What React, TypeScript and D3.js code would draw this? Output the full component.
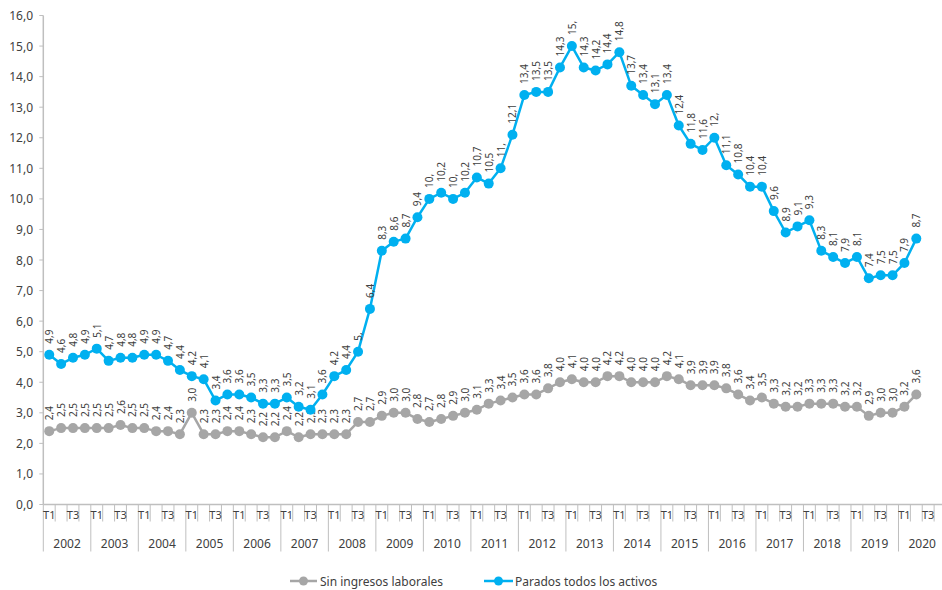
import React from "react";
import * as d3 from "d3";

const years = ["2002","2003","2004","2005","2006","2007","2008","2009","2010","2011","2012","2013","2014","2015","2016","2017","2018","2019","2020"];
const quarterLabels = ["T1", "", "T3", ""];
const yTicks = [0,1,2,3,4,5,6,7,8,9,10,11,12,13,14,15,16];

const sinIngresos = [
  2.4, 2.5, 2.5, 2.5,
  2.5, 2.5, 2.6, 2.5,
  2.5, 2.4, 2.4, 2.3,
  3.0, 2.3, 2.3, 2.4,
  2.4, 2.3, 2.2, 2.2,
  2.4, 2.2, 2.3, 2.3,
  2.3, 2.3, 2.7, 2.7,
  2.9, 3.0, 3.0, 2.8,
  2.7, 2.8, 2.9, 3.0,
  3.1, 3.3, 3.4, 3.5,
  3.6, 3.6, 3.8, 4.0,
  4.1, 4.0, 4.0, 4.2,
  4.2, 4.0, 4.0, 4.0,
  4.2, 4.1, 3.9, 3.9,
  3.9, 3.8, 3.6, 3.4,
  3.5, 3.3, 3.2, 3.2,
  3.3, 3.3, 3.3, 3.2,
  3.2, 2.9, 3.0, 3.0,
  3.2, 3.6,
];

const parados = [
  4.9, 4.6, 4.8, 4.9,
  5.1, 4.7, 4.8, 4.8,
  4.9, 4.9, 4.7, 4.4,
  4.2, 4.1, 3.4, 3.6,
  3.6, 3.5, 3.3, 3.3,
  3.5, 3.2, 3.1, 3.6,
  4.2, 4.4, 5.0, 6.4,
  8.3, 8.6, 8.7, 9.4,
  10.0, 10.2, 10.0, 10.2,
  10.7, 10.5, 11.0, 12.1,
  13.4, 13.5, 13.5, 14.3,
  15.0, 14.3, 14.2, 14.4,
  14.8, 13.7, 13.4, 13.1,
  13.4, 12.4, 11.8, 11.6,
  12.0, 11.1, 10.8, 10.4,
  10.4, 9.6, 8.9, 9.1,
  9.3, 8.3, 8.1, 7.9,
  8.1, 7.4, 7.5, 7.5,
  7.9, 8.7,
];

const W = 942;
const H = 590;
const FONT = "'Noto Sans', 'Open Sans', sans-serif";
const TEXT = "#404040";
const AXIS = "#BFBFBF";
const GRAY = "#A6A6A6";
const BLUE = "#00B0F0";

const fmtGray = (v: number) => v.toFixed(1).replace(".", ",");
const fmtBlue = (v: number) => (Number.isInteger(v) ? `${v},` : v.toFixed(1).replace(".", ","));
const fmtAxis = (v: number) => v.toFixed(1).replace(".", ",");

export default function App() {
  const nSlots = years.length * 4;
  const x = d3.scaleBand<number>().domain(d3.range(nSlots)).range([43.3, 946]).padding(0);
  const y = d3.scaleLinear().domain([0, 16]).range([504.5, 15.5]);
  const cx = (i: number) => (x(i) as number) + x.bandwidth() / 2;
  const line = d3.line<number>().x((_, i) => cx(i)).y((d) => y(d));
  const axisY = y(0);
  const x0 = x(0) as number;

  const series = [
    { data: sinIngresos, color: GRAY, fmt: fmtGray },
    { data: parados, color: BLUE, fmt: fmtBlue },
  ];

  return (
    <svg width={W} height={H} style={{ position: "absolute", left: 0, top: 0, background: "#fff" }} fontFamily={FONT}>
      {/* Y axis */}
      <line x1={x0} x2={x0} y1={y(16)} y2={axisY} stroke={AXIS} strokeWidth={1.5} />
      {yTicks.map((t) => (
        <g key={t}>
          <line x1={x0 - 4} x2={x0} y1={y(t)} y2={y(t)} stroke={AXIS} strokeWidth={1} />
          <text x={33} y={y(t)} textAnchor="end" dominantBaseline="central" fontSize={12} fill={TEXT}>
            {fmtAxis(t)}
          </text>
        </g>
      ))}
      {/* X axis */}
      <line x1={x0} x2={946} y1={axisY} y2={axisY} stroke={AXIS} strokeWidth={1.5} />
      {d3.range(nSlots + 1).map((i) => {
        const xx = i < nSlots ? (x(i) as number) : 946;
        const isYear = i % 4 === 0;
        return (
          <line key={"t" + i} x1={xx} x2={xx} y1={axisY} y2={axisY + (isYear ? 47 : 17)} stroke={AXIS} strokeWidth={1} />
        );
      })}
      {d3.range(nSlots).map((i) =>
        quarterLabels[i % 4] ? (
          <text key={"q" + i} x={cx(i)} y={axisY + 10} textAnchor="middle" dominantBaseline="central" fontSize={11} fill={TEXT}>
            {quarterLabels[i % 4]}
          </text>
        ) : null
      )}
      {years.map((yr, k) => (
        <text key={yr} x={(x(k * 4) as number) + x.bandwidth() * 2} y={axisY + 39} textAnchor="middle" dominantBaseline="central" fontSize={12} fill={TEXT}>
          {yr}
        </text>
      ))}
      {/* Series */}
      {series.map((s, si) => (
        <g key={si}>
          <path d={line(s.data) || ""} fill="none" stroke={s.color} strokeWidth={2.5} strokeLinejoin="round" />
          {s.data.map((v, i) => (
            <circle key={i} cx={cx(i)} cy={y(v)} r={5} fill={s.color} />
          ))}
          {s.data.map((v, i) => (
            <text
              key={"l" + i}
              transform={`translate(${cx(i)},${y(v) - 11}) rotate(-90)`}
              textAnchor="start"
              dominantBaseline="central"
              fontSize={10}
              fill={TEXT}
            >
              {s.fmt(v)}
            </text>
          ))}
        </g>
      ))}
      {/* Legend */}
      <g>
        <line x1={290} x2={317} y1={581} y2={581} stroke={GRAY} strokeWidth={2.5} />
        <circle cx={303.5} cy={581} r={4.5} fill={GRAY} />
        <text x={320} y={581} dominantBaseline="central" fontSize={12} fill={TEXT}>Sin ingresos laborales</text>
        <line x1={484} x2={513} y1={581} y2={581} stroke={BLUE} strokeWidth={2.5} />
        <circle cx={498.5} cy={581} r={4.5} fill={BLUE} />
        <text x={515} y={581} dominantBaseline="central" fontSize={12} fill={TEXT}>Parados todos los activos</text>
      </g>
    </svg>
  );
}
